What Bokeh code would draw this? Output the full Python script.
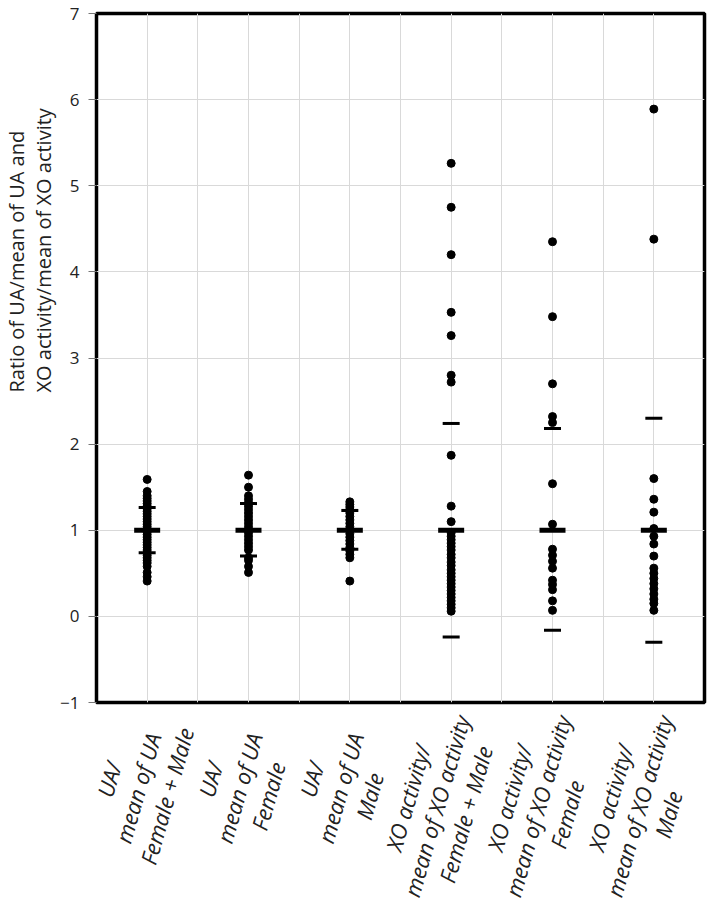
import math
from bokeh.plotting import figure
from bokeh.layouts import column
from bokeh.core.properties import value
from bokeh.models import FactorRange, Range1d, FixedTicker, Grid, Title, ColumnDataSource
from bokeh.embed import file_html
from bokeh.resources import INLINE

# ---- data ----
categories = [
    "UA/\nmean of UA\nFemale + Male",
    "UA/\nmean of UA\nFemale",
    "UA/\nmean of UA\nMale",
    "XO activity/\nmean of XO activity\nFemale + Male",
    "XO activity/\nmean of XO activity\nFemale",
    "XO activity/\nmean of XO activity\nMale",
]

ua_female_male = [1.59, 1.45, 1.40, 1.37, 1.34, 1.31, 1.28, 1.25, 1.22, 1.19, 1.16,
                  1.13, 1.10, 1.07, 1.04, 1.01, 0.98, 0.95, 0.92, 0.89, 0.86, 0.83,
                  0.80, 0.77, 0.74, 0.71, 0.68, 0.65, 0.62, 0.58, 0.51, 0.46, 0.41]
ua_female = [1.64, 1.50, 1.40, 1.36, 1.32, 1.28, 1.24, 1.20, 1.16, 1.12, 1.08, 1.04,
             0.97, 0.93, 0.89, 0.85, 0.81, 0.77, 0.68, 0.65, 0.58, 0.51]
ua_male = [1.33, 1.30, 1.27, 1.24, 1.20, 1.16, 1.12, 1.08, 1.04, 1.00, 0.96, 0.92,
           0.88, 0.84, 0.80, 0.76, 0.72, 0.68, 0.41]
xo_female_male = [5.26, 4.75, 4.20, 3.53, 3.26, 2.80, 2.72, 1.87, 1.28, 1.10, 0.97,
                  0.93, 0.89, 0.85, 0.81, 0.77, 0.72, 0.68, 0.63, 0.59, 0.54, 0.50,
                  0.46, 0.42, 0.38, 0.34, 0.30, 0.26, 0.22, 0.18, 0.14, 0.10, 0.06]
xo_female = [4.35, 3.48, 2.70, 2.32, 2.25, 1.54, 1.07, 0.78, 0.71, 0.64, 0.56, 0.42,
             0.37, 0.31, 0.18, 0.07]
xo_male = [5.89, 4.38, 1.60, 1.36, 1.21, 1.02, 0.93, 0.84, 0.70, 0.56, 0.50, 0.44,
           0.38, 0.32, 0.26, 0.20, 0.15, 0.07]

means = [1.0, 1.0, 1.0, 1.0, 1.0, 1.0]
upper_2sd = [1.265, 1.31, 1.23, 2.24, 2.18, 2.30]
lower_2sd = [0.74, 0.70, 0.78, -0.24, -0.16, -0.30]

y_ticks = [-1, 0, 1, 2, 3, 4, 5, 6, 7]
y_title = "Ratio of UA/mean of UA and\nXO activity/mean of XO activity"

series = [ua_female_male, ua_female, ua_male, xo_female_male, xo_female, xo_male]

# ---- build ----
xs, ys = [], []
for cat, vals in zip(categories, series):
    xs += [cat] * len(vals)
    ys += vals
src = ColumnDataSource(dict(x=xs, y=ys))

LEFT = 89
GAP = 11  # space under the frame, keeps the lowest y tick label whole
p = figure(
    x_range=FactorRange(factors=categories),
    y_range=Range1d(y_ticks[0], y_ticks[-1]),
    frame_width=608, frame_height=689,
    min_border_left=LEFT, min_border_right=3, min_border_top=13, min_border_bottom=GAP,
    output_backend="svg", toolbar_location=None,
)
p.background_fill_color = "white"
p.outline_line_color = "black"
p.outline_line_width = 3.5

# grids
p.xgrid.grid_line_color = "#d9d9d9"
p.ygrid.grid_line_color = "#d9d9d9"
p.ygrid.ticker = FixedTicker(ticks=y_ticks)
mid_grid = Grid(dimension=0, ticker=FixedTicker(ticks=[1, 2, 3, 4, 5]),
                grid_line_color="#d9d9d9")
p.add_layout(mid_grid)

# y axis
p.yaxis.ticker = FixedTicker(ticks=y_ticks)
p.yaxis.major_label_overrides = {-1: "\u22121"}
p.yaxis.axis_line_color = None
p.yaxis.minor_tick_line_color = None
p.yaxis.major_tick_in = 0
p.yaxis.major_tick_out = 8
p.yaxis.major_tick_line_color = "#777777"
p.yaxis.major_label_standoff = 9
p.yaxis.major_label_text_font = "Open Sans"
p.yaxis.major_label_text_font_size = "17px"
p.yaxis.major_label_text_color = "#222222"

p.xaxis.visible = False

p.add_layout(Title(text=y_title, align="left", offset=310, standoff=1,
                   text_font="Open Sans", text_font_size="20px",
                   text_font_style="normal", text_color="#222222"), "left")

# points
p.scatter(x="x", y="y", source=src, size=8, color="black", marker="circle")
# means and 2SD bars
p.scatter(x=categories, y=means, marker="dash", size=26, line_width=5,
          line_color="black")
p.scatter(x=categories + categories, y=upper_2sd + lower_2sd, marker="dash",
          size=17, line_width=3, line_color="black")

# ---- category labels: centred, rotated multi-line blocks below the frame ----
p2 = figure(
    x_range=p.x_range, y_range=Range1d(0, 1),
    frame_width=608, frame_height=186,
    min_border_left=LEFT, min_border_right=3, min_border_top=0, min_border_bottom=0,
    output_backend="svg", toolbar_location=None,
)
p2.axis.visible = False
p2.grid.visible = False
p2.outline_line_color = None

angle = 74 * math.pi / 180
end_dx, end_dy = 10, 17 - GAP    # px from (tick, top of this panel) to the block's upper end
half_len = {"UA": 71, "XO": 90}  # half of the longest line, px
x_off, y_off = [], []
for c in categories:
    h = half_len[c[:2]]
    x_off.append(end_dx - h * math.cos(angle))
    y_off.append(end_dy + h * math.sin(angle))
lab_src = ColumnDataSource(dict(x=categories, y=[1] * len(categories),
                                text=categories, xo=x_off, yo=y_off))
p2.text(x="x", y="y", text="text", source=lab_src, x_offset="xo", y_offset="yo",
        angle=angle, text_align="center", text_baseline="middle",
        text_font=value("Open Sans"), text_font_style="italic",
        text_font_size=value("22px"), text_line_height=1.0, text_color="#222222")

layout = column(p, p2, spacing=0)
open("out.html", "w").write(file_html(layout, INLINE))
